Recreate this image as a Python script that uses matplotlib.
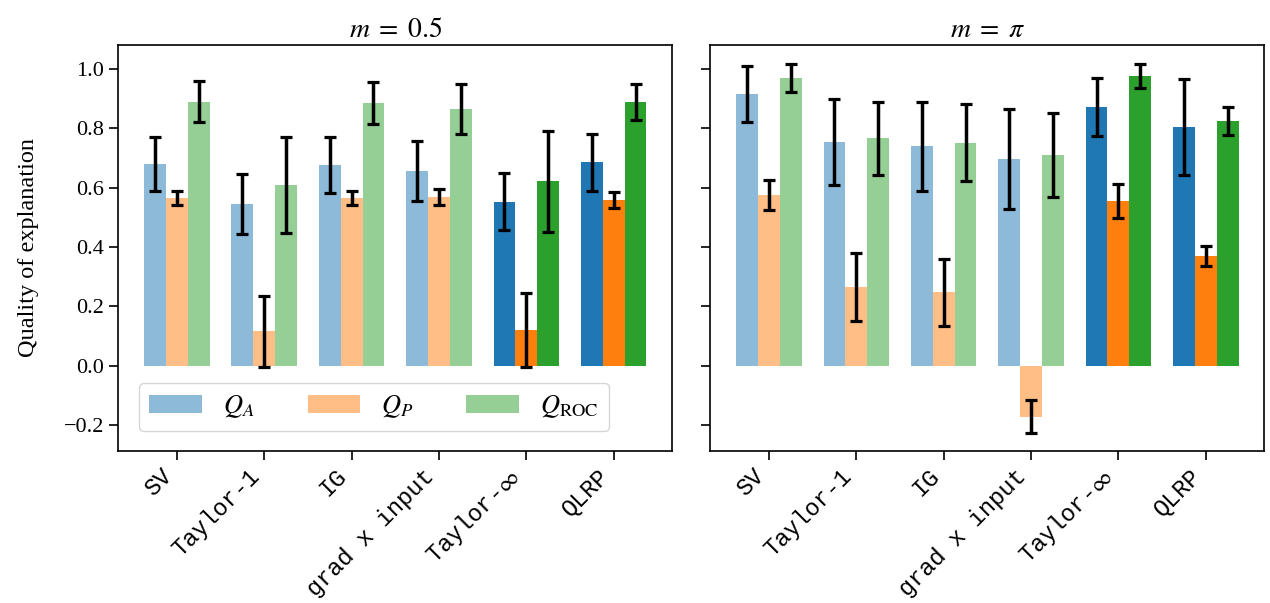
import numpy as np
import matplotlib
matplotlib.use("Agg")
import matplotlib.pyplot as plt

plt.rcParams["font.family"] = ["Liberation Serif", "DejaVu Serif"]
plt.rcParams["mathtext.fontset"] = "stix"

methods = ["SV", "Taylor-1", "IG", "grad x input", r"Taylor-$\infty$", "QLRP"]
series = [r"$Q_A$", r"$Q_P$", r"$Q_{\mathrm{ROC}}$"]
panels = [r"$m\;=\;0.5$", r"$m\;=\;\pi$"]

# m = 0.5
qa_05 = [0.680, 0.545, 0.676, 0.656, 0.552, 0.686]
qa_05_err = [0.092, 0.100, 0.095, 0.100, 0.096, 0.096]
qp_05 = [0.565, 0.115, 0.565, 0.568, 0.120, 0.558]
qp_05_err = [0.024, 0.120, 0.024, 0.028, 0.125, 0.028]
qroc_05 = [0.889, 0.609, 0.885, 0.865, 0.622, 0.889]
qroc_05_err = [0.069, 0.162, 0.072, 0.083, 0.170, 0.062]

# m = pi
qa_pi = [0.916, 0.754, 0.740, 0.697, 0.872, 0.804]
qa_pi_err = [0.095, 0.145, 0.150, 0.169, 0.097, 0.163]
qp_pi = [0.575, 0.265, 0.248, -0.172, 0.555, 0.370]
qp_pi_err = [0.052, 0.114, 0.113, 0.057, 0.057, 0.034]
qroc_pi = [0.970, 0.767, 0.751, 0.710, 0.976, 0.825]
qroc_pi_err = [0.047, 0.123, 0.130, 0.140, 0.040, 0.047]

data = [
    [(qa_05, qa_05_err), (qp_05, qp_05_err), (qroc_05, qroc_05_err)],
    [(qa_pi, qa_pi_err), (qp_pi, qp_pi_err), (qroc_pi, qroc_pi_err)],
]
colors = ["tab:blue", "tab:orange", "tab:green"]
n_light = 4  # first four methods drawn faded

fig, axes = plt.subplots(1, 2, sharey=True, figsize=(12.7, 6.03), dpi=100)
fig.subplots_adjust(left=0.0932, right=0.9955, top=0.9254, bottom=0.2526, wspace=0.069)

x = np.arange(len(methods))
w = 0.25
for ax, title, pdata in zip(axes, panels, data):
    for k, ((vals, errs), col) in enumerate(zip(pdata, colors)):
        xs = x + (k - 1) * w
        alphas = [0.5 if i < n_light else 1.0 for i in range(len(methods))]
        for i in range(len(methods)):
            ax.bar(xs[i], vals[i], width=w, color=col, alpha=alphas[i],
                   label=series[k] if i == 0 else None)
        ax.errorbar(xs, vals, yerr=errs, fmt="none", ecolor="black",
                    elinewidth=2.5, capsize=4, capthick=2.3, zorder=3)
    ax.set_title(title, fontsize=20, pad=6)
    ax.set_xticks(x)
    ax.set_xticklabels(methods, rotation=45, ha="right",
                       family=["Liberation Mono", "DejaVu Sans Mono"], fontsize=17)
    ax.set_xlim(-0.67, 5.67)
    ax.tick_params(axis="both", length=6.5, width=1.2, labelsize=16)
    ax.tick_params(axis="x", labelsize=17)
    for s in ax.spines.values():
        s.set_linewidth(1.2)

axes[0].set_ylim(-0.287, 1.081)
axes[0].set_yticks([-0.2, 0.0, 0.2, 0.4, 0.6, 0.8, 1.0])
axes[0].set_ylabel("Quality of explanation", fontsize=17.5, labelpad=18)
axes[0].legend(ncol=3, loc="lower left", bbox_to_anchor=(0.037, 0.049),
               borderaxespad=0, fontsize=19)

plt.savefig("out.png", dpi=100)
